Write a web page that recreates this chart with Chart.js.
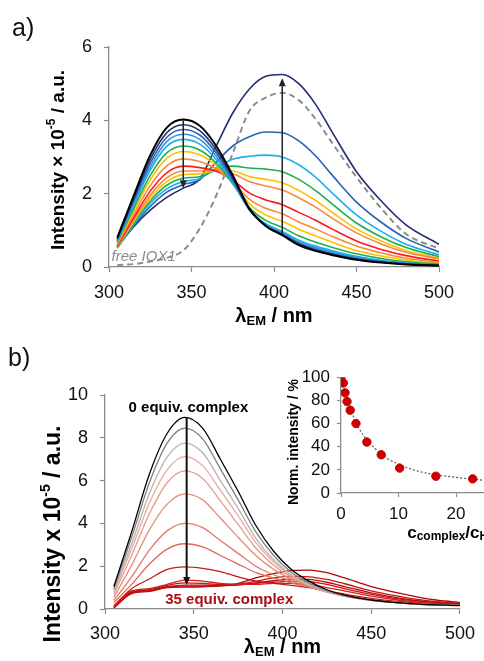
<!DOCTYPE html>
<html><head><meta charset="utf-8">
<script src="https://cdn.jsdelivr.net/npm/chart.js@4.4.1/dist/chart.umd.min.js"></script>
<style>
html,body{margin:0;padding:0;background:#fff;}
#wrap{position:relative;width:484px;height:661px;overflow:hidden;}
canvas{position:absolute;}
</style></head><body>
<div id="wrap">
<canvas id="ca" width="484" height="330" style="left:0;top:0;width:484px;height:330px"></canvas>
<canvas id="cb" width="484" height="341" style="left:0;top:320px;width:484px;height:341px"></canvas>
<canvas id="ci" width="330" height="185" style="left:270px;top:360px;width:330px;height:185px"></canvas>
</div>
<script>
// ---------- DATA ----------
// Panel a: emission wavelengths (nm)
const wlA = [305,315,325,335,345,355,365,375,385,395,405,415,425,435,450,465,480,500];
const specA01 = [0.80,1.95,3.05,3.80,4.02,3.85,3.30,2.50,1.60,1.12,0.87,0.60,0.44,0.33,0.20,0.12,0.07,0.04];
const specA02 = [0.77,1.88,2.94,3.66,3.88,3.72,3.20,2.44,1.58,1.12,0.88,0.62,0.46,0.35,0.21,0.13,0.08,0.04];
const specA03 = [0.75,1.82,2.84,3.54,3.75,3.60,3.11,2.39,1.57,1.13,0.90,0.65,0.49,0.37,0.23,0.14,0.09,0.05];
const specA04 = [0.72,1.76,2.74,3.42,3.62,3.48,3.02,2.34,1.56,1.15,0.93,0.68,0.53,0.41,0.26,0.16,0.10,0.05];
const specA05 = [0.70,1.69,2.64,3.29,3.48,3.35,2.93,2.30,1.57,1.18,0.97,0.73,0.57,0.45,0.29,0.18,0.11,0.06];
const specA06 = [0.67,1.60,2.50,3.11,3.30,3.19,2.83,2.27,1.62,1.27,1.08,0.85,0.68,0.54,0.36,0.23,0.14,0.08];
const specA07 = [0.64,1.53,2.38,2.96,3.15,3.06,2.77,2.30,1.73,1.42,1.25,1.03,0.85,0.68,0.45,0.30,0.19,0.10];
const specA08 = [0.61,1.44,2.22,2.76,2.95,2.88,2.68,2.32,1.85,1.60,1.45,1.23,1.04,0.84,0.57,0.38,0.24,0.13];
const specA09 = [0.57,1.35,2.07,2.57,2.75,2.71,2.61,2.37,2.02,1.83,1.70,1.49,1.28,1.04,0.71,0.48,0.31,0.16];
const specA10 = [0.56,1.29,1.96,2.43,2.62,2.62,2.64,2.55,2.33,2.21,2.10,1.89,1.64,1.34,0.93,0.63,0.40,0.22];
const specA11 = [0.54,1.24,1.88,2.33,2.52,2.54,2.63,2.62,2.47,2.39,2.30,2.09,1.82,1.50,1.04,0.71,0.45,0.24];
const specA12 = [0.53,1.20,1.80,2.23,2.42,2.46,2.65,2.75,2.70,2.67,2.60,2.39,2.09,1.73,1.20,0.82,0.53,0.28];
const specA13 = [0.52,1.16,1.73,2.13,2.33,2.41,2.71,2.94,3.02,3.05,3.00,2.79,2.46,2.03,1.42,0.97,0.62,0.33];
const specA14 = [0.52,1.13,1.65,2.04,2.25,2.38,2.86,3.30,3.55,3.68,3.66,3.44,3.04,2.52,1.77,1.22,0.78,0.41];
const specA15 = [0.55,1.10,1.55,1.90,2.15,2.40,3.30,4.20,4.85,5.20,5.25,5.00,4.45,3.70,2.60,1.80,1.15,0.62];
const freeIOX1 = [0.05,0.08,0.15,0.25,0.45,1.05,1.95,3.10,4.25,4.62,4.75,4.55,4.05,3.40,2.45,1.60,0.90,0.50];
const arrowsA = [{x:345, from:4.0, to:2.15}, {x:405, from:0.9, to:5.15}];

// Panel b
const wlB = [305,315,325,335,345,355,365,375,385,395,405,415,425,435,450,465,480,500];
const specB01 = [1.05,3.60,6.30,8.20,8.95,8.45,7.00,5.50,3.90,2.70,1.85,1.30,0.90,0.65,0.42,0.30,0.22,0.17];
const specB02 = [0.95,3.35,5.90,7.75,8.45,7.95,6.55,5.10,3.60,2.50,1.72,1.22,0.86,0.62,0.41,0.29,0.21,0.17];
const specB03 = [0.88,3.05,5.40,7.10,7.75,7.30,6.00,4.70,3.30,2.30,1.60,1.15,0.82,0.60,0.40,0.29,0.21,0.17];
const specB04 = [0.80,2.80,4.95,6.50,7.12,6.70,5.55,4.35,3.10,2.20,1.55,1.12,0.80,0.60,0.40,0.29,0.21,0.16];
const specB05 = [0.70,2.50,4.45,5.90,6.45,6.10,5.05,3.95,2.85,2.05,1.48,1.10,0.80,0.60,0.40,0.29,0.21,0.16];
const specB06 = [0.55,2.05,3.70,4.90,5.38,5.10,4.25,3.35,2.50,1.85,1.40,1.08,0.80,0.60,0.40,0.29,0.21,0.16];
const specB07 = [0.40,1.50,2.75,3.65,4.00,3.80,3.20,2.60,2.00,1.60,1.30,1.05,0.80,0.60,0.42,0.30,0.22,0.16];
const specB08 = [0.30,1.15,2.10,2.80,3.05,2.90,2.50,2.10,1.70,1.45,1.22,1.02,0.80,0.62,0.43,0.31,0.22,0.17];
const specB09 = [0.15,0.95,1.40,1.85,1.97,1.90,1.75,1.50,1.30,1.20,1.10,1.00,0.85,0.70,0.50,0.35,0.25,0.18];
const specB10 = [0.10,0.85,0.95,1.15,1.35,1.30,1.20,1.15,1.15,1.20,1.20,1.15,1.00,0.85,0.60,0.42,0.30,0.20];
const specB11 = [0.10,0.80,0.90,1.10,1.22,1.20,1.15,1.15,1.20,1.25,1.30,1.28,1.15,0.95,0.68,0.47,0.33,0.22];
const specB12 = [0.08,0.78,0.88,1.05,1.12,1.12,1.10,1.12,1.22,1.32,1.40,1.38,1.25,1.05,0.75,0.52,0.36,0.24];
const specB13 = [0.06,0.75,0.85,1.02,1.06,1.07,1.08,1.15,1.30,1.45,1.52,1.50,1.38,1.18,0.85,0.60,0.40,0.26];
const specB14 = [0.05,0.72,0.82,1.00,1.02,1.04,1.08,1.20,1.45,1.65,1.80,1.82,1.70,1.45,1.05,0.75,0.50,0.30];
const arrowB = {x:346, from:8.93, to:1.12};

// Inset: normalized intensity vs c_complex/c_HSA
const ratioPts = [0,0.4,0.7,1.05,1.6,2.6,4.5,7.0,10.2,16.5,22.9];
const normIntPts = [100,95,86.5,79,71.5,60,44,33,21.5,14.5,12.2];
const fitRatio = [0,0.5,1,2,3,4,5,6,8,10,12,15,20,25,30,35,40];
const fitNorm = [100,91,83,68,57,49,43,38,30,25,21,17,13.5,11,9.5,8.5,7.5];

// ---------- STYLES ----------
const colorsA = ['#000000','#1f2f6e','#2a62b0','#3a8fd8','#19b0ee','#1fae4f','#ffc000','#f58a3c','#ff1a1a',
                 '#f58a3c','#ffc000','#1fae4f','#19b0ee','#2a62b0','#1f2f6e'];
const colorsB = ['#000000','#7f7f7f','#b4b4b4','#eaa99b','#e89a8a','#e68b7b','#e27a6a','#de6a5a',
                 '#c81818','#d02020','#c21212','#b80e0e','#c41616','#b00808'];
const FONT = "'Liberation Sans', Arial, Helvetica, sans-serif";

const seriesA = [specA01,specA02,specA03,specA04,specA05,specA06,specA07,specA08,specA09,specA10,specA11,specA12,specA13,specA14,specA15];
const seriesB = [specB01,specB02,specB03,specB04,specB05,specB06,specB07,specB08,specB09,specB10,specB11,specB12,specB13,specB14];

function pts(xs, ys){ return xs.map((x,i)=>({x:x, y:ys[i]})); }

function axis(min,max,step,size,pad,tickLen,fitFn){
  return {
    type:'linear', min:min, max:max,
    ticks:{stepSize:step, font:{family:FONT,size:size}, color:'#111', padding:pad, autoSkip:false, maxRotation:0},
    grid:{display:true, drawOnChartArea:false, drawTicks:true, tickLength:tickLen, color:'#8a8a8a', tickColor:'#8a8a8a', tickWidth:1.2},
    border:{display:true, color:'#8a8a8a', width:1.3},
    title:{display:false},
    afterFit: fitFn
  };
}

function richText(ctx, parts, x, y, opt){
  opt = opt || {};
  ctx.save();
  ctx.translate(x,y);
  if (opt.rotate) ctx.rotate(-Math.PI/2);
  let w = 0;
  parts.forEach(p=>{ ctx.font = (p.style||'normal')+' '+(p.weight||'bold')+' '+p.size+'px '+FONT; p.w = ctx.measureText(p.t).width; w += p.w; });
  let cx = opt.align==='left' ? 0 : -w/2;
  ctx.textBaseline = 'middle';
  ctx.fillStyle = opt.color || '#000';
  parts.forEach(p=>{
    ctx.font = (p.style||'normal')+' '+(p.weight||'bold')+' '+p.size+'px '+FONT;
    ctx.fillText(p.t, cx, p.dy||0);
    cx += p.w;
  });
  ctx.restore();
}

function drawArrow(ctx, x, y1, y2, color, lw, hl, hw){
  ctx.save();
  ctx.strokeStyle = color; ctx.fillStyle = color; ctx.lineWidth = lw;
  const dir = y2 > y1 ? 1 : -1;
  ctx.beginPath(); ctx.moveTo(x,y1); ctx.lineTo(x, y2 - dir*hl); ctx.stroke();
  ctx.beginPath(); ctx.moveTo(x,y2); ctx.lineTo(x-hw/2, y2-dir*hl); ctx.lineTo(x+hw/2, y2-dir*hl); ctx.closePath(); ctx.fill();
  ctx.restore();
}

// ---------- PANEL A ----------
const dsA = seriesA.map((s,i)=>({
  data: pts(wlA, s), borderColor: colorsA[i], borderWidth: i===0?2:1.6,
  pointRadius:0, cubicInterpolationMode:'monotone', fill:false
}));
dsA.push({data: pts(wlA, freeIOX1), borderColor:'#8c8c8c', borderWidth:2, borderDash:[6,4],
  pointRadius:0, cubicInterpolationMode:'monotone', fill:false});

const plugA = {
  id:'plugA',
  afterDatasetsDraw(chart){
    const {ctx, scales:{x,y}} = chart;
    arrowsA.forEach(a=>drawArrow(ctx, x.getPixelForValue(a.x), y.getPixelForValue(a.from), y.getPixelForValue(a.to), '#222', 1.5, 8, 7));
    richText(ctx, [{t:'free IOX1', size:15, weight:'normal', style:'italic'}], x.getPixelForValue(321), y.getPixelForValue(0.27), {color:'#8c8c8c'});
  },
  afterDraw(chart){
    const {ctx, chartArea:ca} = chart;
    richText(ctx, [{t:'a)', size:25, weight:'normal'}], 12, 29, {align:'left', color:'#111'});
    richText(ctx, [{t:'λ', size:20},{t:'EM', size:13, dy:5},{t:' / nm', size:20}], (ca.left+ca.right)/2, 316);
    richText(ctx, [{t:'Intensity × 10', size:19},{t:'-5', size:12, dy:-7},{t:' / a.u.', size:19}], 59, 160, {rotate:true});
  }
};

new Chart(document.getElementById('ca'), {
  type:'line',
  data:{datasets: dsA},
  options:{
    responsive:false, animation:false, devicePixelRatio:1,
    layout:{padding:{left:0, top:47, right:45, bottom:0}},
    plugins:{legend:{display:false}, tooltip:{enabled:false}},
    scales:{
      x: axis(300,500,50,18,10,5, s=>{ s.height = 63; }),
      y: axis(0,6,2,18,12,5, s=>{ s.width = 109; })
    }
  },
  plugins:[plugA]
});

// ---------- PANEL B ----------
const dsB = seriesB.map((s,i)=>({
  data: pts(wlB, s), borderColor: colorsB[i], borderWidth: 1.3,
  pointRadius:0, cubicInterpolationMode:'monotone', fill:false
}));

const plugB = {
  id:'plugB',
  afterDatasetsDraw(chart){
    const {ctx, scales:{x,y}} = chart;
    drawArrow(ctx, x.getPixelForValue(arrowB.x), y.getPixelForValue(arrowB.from), y.getPixelForValue(arrowB.to), '#111', 2, 8, 7);
    richText(ctx, [{t:'0 equiv. complex', size:15}], x.getPixelForValue(347), y.getPixelForValue(9.39), {color:'#000'});
    richText(ctx, [{t:'35 equiv. complex', size:15}], x.getPixelForValue(370), y.getPixelForValue(0.42), {color:'#a50f15'});
  },
  afterDraw(chart){
    const {ctx, chartArea:ca} = chart;
    richText(ctx, [{t:'b)', size:25, weight:'normal'}], 8, 39, {align:'left', color:'#111'});
    richText(ctx, [{t:'λ', size:20},{t:'EM', size:13, dy:5},{t:' / nm', size:20}], (ca.left+ca.right)/2, 327);
    richText(ctx, [{t:'Intensity x 10', size:23},{t:'-5', size:14, dy:-8},{t:' / a.u.', size:23}], 54, 214, {rotate:true});
  }
};

new Chart(document.getElementById('cb'), {
  type:'line',
  data:{datasets: dsB},
  options:{
    responsive:false, animation:false, devicePixelRatio:1,
    layout:{padding:{left:0, top:75, right:18, bottom:0}},
    plugins:{legend:{display:false}, tooltip:{enabled:false}},
    scales:{
      x: axis(300,500,50,18,9,5, s=>{ s.height = 52; }),
      y: axis(0,10,2,18,12,5, s=>{ s.width = 105; })
    }
  },
  plugins:[plugB]
});

// ---------- INSET ----------
const plugI = {
  id:'plugI',
  afterDraw(chart){
    const {ctx, chartArea:ca} = chart;
    richText(ctx, [{t:'c', size:17},{t:'complex', size:12, dy:4},{t:'/c', size:17},{t:'HSA', size:12, dy:4}], (ca.left+ca.right)/2, 173);
    richText(ctx, [{t:'Norm. intensity / %', size:14}], 24, 82, {rotate:true});
  }
};

new Chart(document.getElementById('ci'), {
  type:'scatter',
  data:{datasets:[
    {data: pts(ratioPts, normIntPts), backgroundColor:'#cc0000', borderColor:'#cc0000', pointRadius:4.2, showLine:false},
    {data: pts(fitRatio, fitNorm), borderColor:'#555', borderWidth:1.2, borderDash:[2,2], pointRadius:0, showLine:true, cubicInterpolationMode:'monotone'}
  ]},
  options:{
    responsive:false, animation:false, devicePixelRatio:1,
    layout:{padding:{left:0, top:16, right:29, bottom:0}},
    plugins:{legend:{display:false}, tooltip:{enabled:false}},
    scales:{
      x: axis(0,40,10,17,7,4, s=>{ s.height = 52; }),
      y: axis(0,100,20,17,7,4, s=>{ s.width = 71; })
    }
  },
  plugins:[plugI]
});
</script>
</body></html>
